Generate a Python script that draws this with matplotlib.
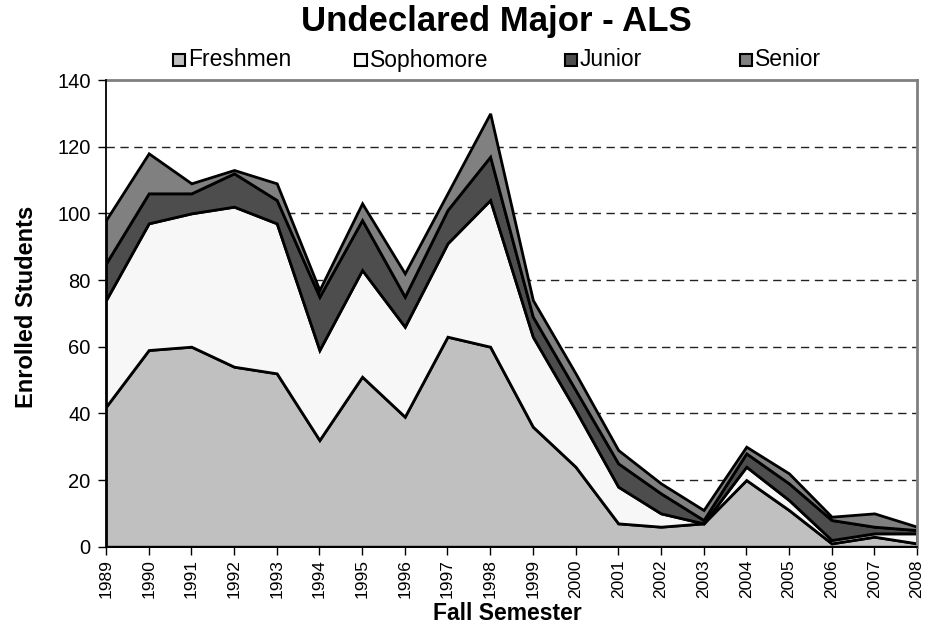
import matplotlib
matplotlib.use("Agg")
import matplotlib.pyplot as plt
from matplotlib.patches import Rectangle

plt.rcParams['font.family'] = ['Liberation Sans', 'DejaVu Sans']

years = list(range(1989, 2009))
freshmen = [42, 59, 60, 54, 52, 32, 51, 39, 63, 60, 36, 24, 7, 6, 7, 20, 11, 1, 3, 1]
sophomore = [32, 38, 40, 48, 45, 27, 32, 27, 28, 44, 27, 17, 11, 4, 0, 4, 3, 1, 1, 3]
junior = [11, 9, 6, 10, 7, 16, 15, 9, 10, 13, 6, 6, 7, 6, 1, 4, 5, 6, 2, 1]
senior = [13, 12, 3, 1, 5, 2, 5, 7, 5, 13, 5, 5, 4, 3, 3, 2, 3, 1, 4, 1]

series_names = ['Freshmen', 'Sophomore', 'Junior', 'Senior']
colors = ['#c0c0c0', '#f7f7f7', '#4d4d4d', '#808080']

W, H = 940, 636
fig = plt.figure(figsize=(W / 100, H / 100), dpi=100)
ax = fig.add_axes([106 / W, 1 - 546.7 / H, (917 - 106) / W, (546.7 - 80) / H])

# dashed gridlines behind the stacked areas
for v in range(20, 140, 20):
    ax.axhline(v, color='#222222', lw=1.0, ls=(0, (6, 4)), zorder=0)

polys = ax.stackplot(years, freshmen, sophomore, junior, senior,
                     colors=colors, edgecolor='black', linewidth=2.0, zorder=2)
for p in polys:
    p.set_joinstyle('miter')

ax.set_xlim(1989, 2008)
ax.set_ylim(0, 140)
ax.set_yticks(range(0, 141, 20))
ax.set_xticks(years)
ax.set_xticklabels([str(y) for y in years], rotation=90, fontsize=12.5)
ax.tick_params(axis='y', labelsize=14.5, direction='out', length=6, width=1, pad=5)
ax.tick_params(axis='x', direction='out', length=6, width=1, pad=3)

for side in ('left', 'bottom'):
    ax.spines[side].set_color('black')
    ax.spines[side].set_linewidth(1.3)
for side in ('top', 'right'):
    ax.spines[side].set_color('#808080')
    ax.spines[side].set_linewidth(2.0)
ax.spines['left'].set_zorder(5)
ax.spines['bottom'].set_zorder(5)

ax.set_ylabel('Enrolled Students', fontsize=17, fontweight='bold', va='center')
ax.yaxis.set_label_coords(-(106 - 27) / (917 - 106), (546.7 - 307) / (546.7 - 80))
ax.set_xlabel('Fall Semester', fontsize=16.5, fontweight='bold', va='center')
ax.xaxis.set_label_coords((507 - 106) / (917 - 106), -(614 - 546.7) / (546.7 - 80))

fig.text(496 / W, 1 - 21 / H, 'Undeclared Major - ALS', ha='center', va='center',
         fontsize=25, fontweight='bold')

# legend row: swatch + label for each series
legend_x = [173, 355, 565, 740]
sw = 12
for x0, name, c in zip(legend_x, series_names, colors):
    fig.patches.append(Rectangle((x0 / W, 1 - (60 + sw / 2) / H), sw / W, sw / H,
                                 transform=fig.transFigure, facecolor=c,
                                 edgecolor='black', linewidth=1.5))
    fig.text((x0 + sw + 3) / W, 1 - 60 / H, name, ha='left', va='center', fontsize=16.5)

fig.savefig('out.png', dpi=100)
